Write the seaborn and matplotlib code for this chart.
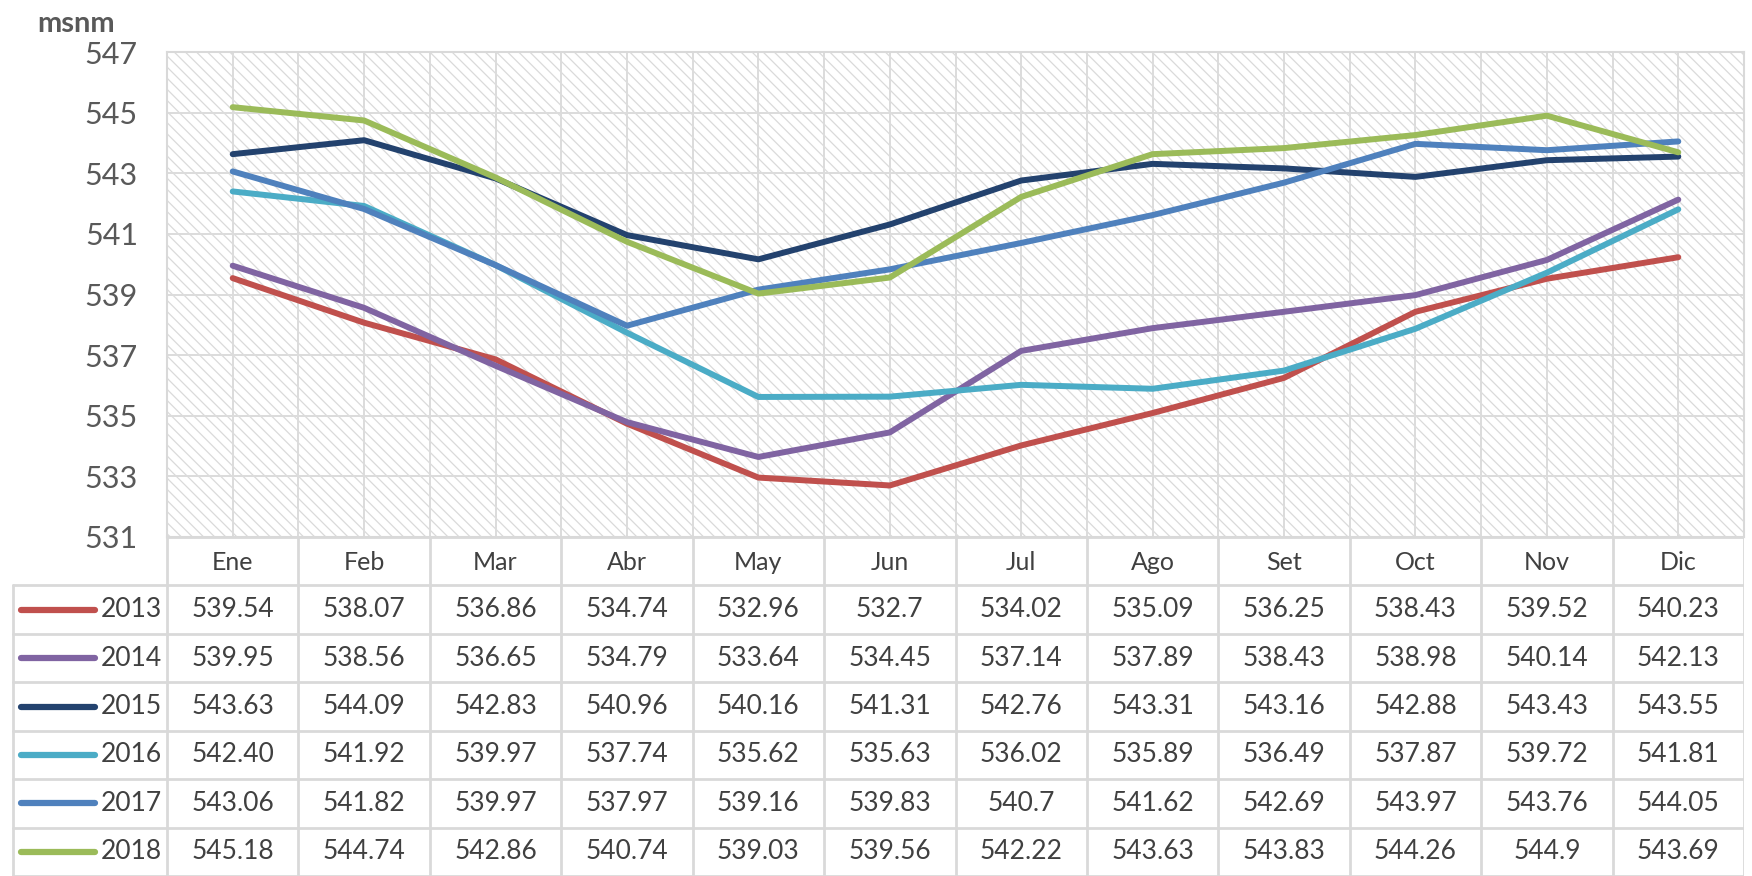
import numpy as np
import pandas as pd
import matplotlib
matplotlib.use("Agg")
from matplotlib import pyplot as plt
import seaborn as sns

# data as shown in the table under the chart
months = ["Ene", "Feb", "Mar", "Abr", "May", "Jun", "Jul", "Ago", "Set", "Oct", "Nov", "Dic"]
years = ["2013", "2014", "2015", "2016", "2017", "2018"]
v2013 = ["539.54", "538.07", "536.86", "534.74", "532.96", "532.7", "534.02", "535.09", "536.25", "538.43", "539.52", "540.23"]
v2014 = ["539.95", "538.56", "536.65", "534.79", "533.64", "534.45", "537.14", "537.89", "538.43", "538.98", "540.14", "542.13"]
v2015 = ["543.63", "544.09", "542.83", "540.96", "540.16", "541.31", "542.76", "543.31", "543.16", "542.88", "543.43", "543.55"]
v2016 = ["542.40", "541.92", "539.97", "537.74", "535.62", "535.63", "536.02", "535.89", "536.49", "537.87", "539.72", "541.81"]
v2017 = ["543.06", "541.82", "539.97", "537.97", "539.16", "539.83", "540.7", "541.62", "542.69", "543.97", "543.76", "544.05"]
v2018 = ["545.18", "544.74", "542.86", "540.74", "539.03", "539.56", "542.22", "543.63", "543.83", "544.26", "544.9", "543.69"]
colors = ["#C0504D", "#8064A2", "#23426E", "#4BACC6", "#4F81BD", "#9BBB59"]
y_ticks = list(range(531, 548, 2))

table_rows = [v2013, v2014, v2015, v2016, v2017, v2018]
df = pd.DataFrame({
    "mes": months * len(years),
    "anio": [y for y in years for _ in months],
    "nivel": [float(v) for row in table_rows for v in row],
})

sns.set_style("white")
plt.rcParams["font.family"] = ["Lato", "DejaVu Sans"]
plt.rcParams["hatch.linewidth"] = 0.9

W, H = 1752, 876
fig = plt.figure(figsize=(W / 100, H / 100), dpi=100)

# plot area in pixel terms
px_left, px_right, px_top, px_bot = 167, 1744, 52, 537
ax = fig.add_axes([px_left / W, 1 - px_bot / H, (px_right - px_left) / W, (px_bot - px_top) / H])

ax.patch.set_facecolor("white")
ax.patch.set_hatch("\\\\\\")
ax.patch.set_edgecolor("#dadada")
ax.patch.set_linewidth(0)

sns.lineplot(data=df, x="mes", y="nivel", hue="anio", palette=colors,
             linewidth=4.3, sort=False, legend=False, ax=ax, zorder=3)

ax.set_xlim(-0.5, len(months) - 0.5)
ax.set_ylim(y_ticks[0], y_ticks[-1])
ax.set_yticks(y_ticks)
ax.set_xticks(np.arange(len(months)))
ax.set_xticks(np.arange(len(months) + 1) - 0.5, minor=True)
ax.set_xticklabels([])
ax.tick_params(axis="x", which="both", length=0)
ax.tick_params(axis="y", length=0, pad=21, labelsize=22, labelcolor="#595959")
ax.set_axisbelow(True)
ax.grid(True, which="both", color="#dcdcdc", linewidth=1.4)
ax.set_xlabel("")
ax.set_ylabel("")
for s in ax.spines.values():
    s.set_color("#d9d9d9")
    s.set_linewidth(1.5)

fig.text(37 / W, 1 - 32 / H, "msnm", fontsize=21, fontweight="bold",
         color="#595959", va="baseline", ha="left")

# data table below the chart
px_tleft = 10
unit = (px_right - px_left) / len(months)
tax = fig.add_axes([px_tleft / W, 0, (px_right - px_tleft) / W, (H - px_bot) / H])
x0 = -0.5 - (px_left - px_tleft) / unit
tax.set_xlim(x0, len(months) - 0.5)
tax.set_ylim(len(years) + 1, 0)
tax.axis("off")

grid_c = "#d9d9d9"
lw = 2.0
# header row (no legend cell)
tax.plot([-0.5, len(months) - 0.5], [0, 0], color=grid_c, lw=lw)
for i in range(len(months) + 1):
    tax.plot([i - 0.5, i - 0.5], [0, 1], color=grid_c, lw=lw)
for i, m in enumerate(months):
    tax.text(i, 0.52, m, ha="center", va="center", fontsize=18, color="#404040")
# body rows
for r in range(len(years) + 1):
    tax.plot([x0 + 0.02, len(months) - 0.5], [r + 1, r + 1], color=grid_c, lw=lw)
for xv in [x0 + 0.02] + [i - 0.5 for i in range(len(months) + 1)]:
    tax.plot([xv, xv], [1, len(years) + 1], color=grid_c, lw=lw)
for r, (yr, row) in enumerate(zip(years, table_rows)):
    yc = r + 1.5
    tax.plot([x0 + 0.08, x0 + 0.65], [yc, yc], color=colors[r], lw=4.5,
             solid_capstyle="round")
    tax.text(-0.54, yc, yr, ha="right", va="center", fontsize=19, color="#404040")
    for i, v in enumerate(row):
        tax.text(i, yc, v, ha="center", va="center", fontsize=19, color="#404040")

fig.savefig("out.png", dpi=100)
plt.close(fig)
